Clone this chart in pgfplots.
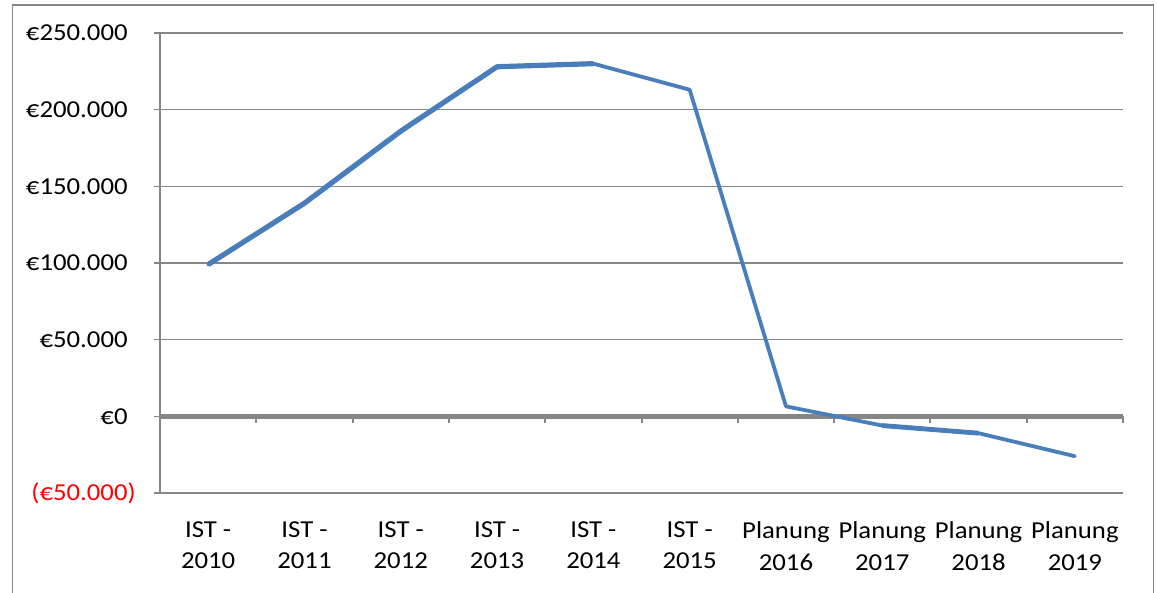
\documentclass[border=0pt]{standalone}
\usepackage{pgfplots}
\pgfplotsset{compat=1.18}
\usepackage{fontspec}
\setmainfont{Carlito}[FakeStretch=1.1]
\definecolor{gridgray}{RGB}{134,134,134}
\definecolor{lineblue}{RGB}{74,126,187}
\definecolor{negred}{RGB}{255,0,0}

\pgfplotstableread{
x  y
0  99000
1  139000
2  186000
3  228000
4  230000
5  213000
6  6500
7  -6000
8  -11000
9  -26000
}\profit

\pgfplotstableread{
x  y
0  99000
1  139000
2  186000
3  228000
4  230000
}\thickA

\pgfplotstableread{
x  y
7  -6000
8  -11000
}\thickB

\begin{document}
\begin{tikzpicture}[x=1bp,y=1bp]
\useasboundingbox (0,0) rectangle (578.5,296);
\draw[gridgray, line width=0.9bp] (6.25,-2) -- (6.25,293.5) -- (576.75,293.5) -- (576.75,-2);
\begin{axis}[
  at={(80bp,49.5bp)}, anchor=south west,
  scale only axis, width=481.5bp, height=230bp,
  xmin=-0.5, xmax=9.5, ymin=-50000, ymax=250000,
  axis x line*=bottom, axis y line*=left,
  x axis line style={draw=none},
  y axis line style={gridgray, line width=1.3bp, -},
  ytick={-50000,0,50000,100000,150000,200000,250000},
  yticklabels={{\color{negred}(€50.000\rlap{)}},€0,€50.000,€100.000,€150.000,€200.000,€250.000},
  scaled y ticks=false,
  xtick={0,...,9},
  xticklabels={{IST -\\2010},{IST -\\2011},{IST -\\2012},{IST -\\2013},{IST -\\2014},{IST -\\2015},{Planung\\2016},{Planung\\2017},{Planung\\2018},{Planung\\2019}},
  xtick style={draw=none},
  ytick style={gridgray, line width=0.7bp},
  tick align=outside, major tick length=3bp,
  ymajorgrids, grid style={gridgray, line width=0.6bp},
  tick label style={font=\fontsize{12.2}{15.6}\selectfont, text=black},
  xticklabel style={align=center, anchor=north, yshift=-8bp},
  yticklabel style={anchor=east, inner sep=0pt, xshift=-13bp},
  clip=false,
]
\draw[gridgray, line width=2.3bp] (axis cs:-0.5,0) -- (axis cs:9.5,0);
\pgfplotsinvokeforeach{-0.5,0.5,1.5,2.5,3.5,4.5,5.5,6.5,7.5,8.5,9.5}{
  \draw[gridgray, line width=1bp] (axis cs:#1,0) -- ([yshift=-3.5bp]axis cs:#1,0);
}
\addplot[lineblue, line width=1.9bp, line join=round, line cap=round] table[x=x,y=y] {\profit};
\addplot[lineblue, line width=2.6bp, line join=round, line cap=butt] table[x=x,y=y] {\thickA};
\addplot[lineblue, line width=2.4bp, line join=round, line cap=butt] table[x=x,y=y] {\thickB};
\end{axis}
\end{tikzpicture}
\end{document}
